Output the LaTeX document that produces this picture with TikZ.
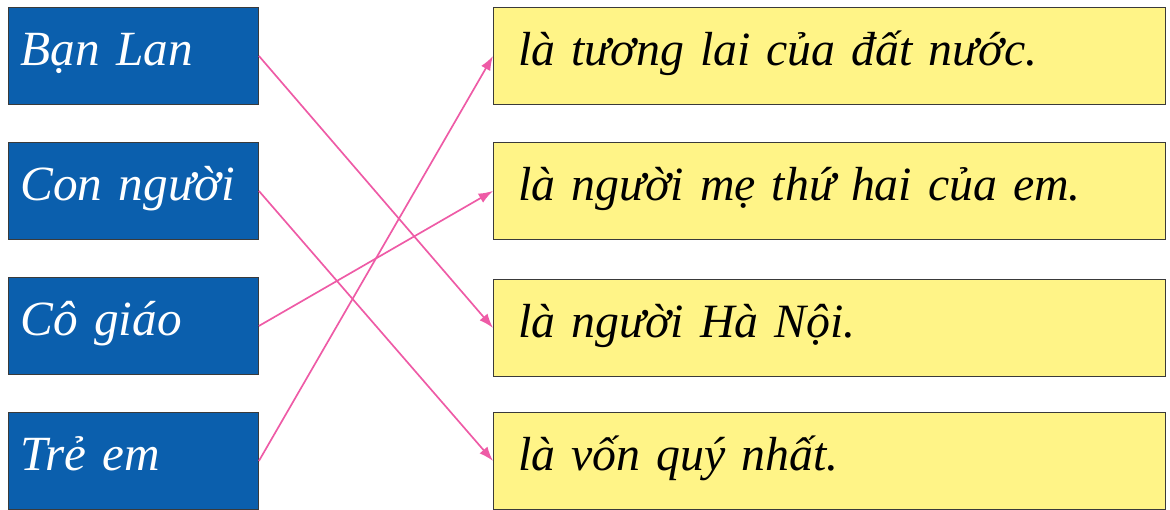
\documentclass[tikz,border=0pt]{standalone}
\usepackage{fontspec}
\setmainfont{Liberation Serif}
\usetikzlibrary{arrows.meta, positioning}
\usepackage{xcolor}
\definecolor{CardBlue}{HTML}{0B5FAD}
\definecolor{CardYellow}{HTML}{FFF487}
\definecolor{CardEdge}{HTML}{3A3A3A}
\definecolor{LinkPink}{HTML}{EE5BA6}
\tikzset{
    % Card styles
    subject/.style={
        rectangle,
        anchor=north west,
        draw=CardEdge,
        fill=CardBlue,
        line width=0.6pt,
        minimum width=6.25cm,
        minimum height=2.425cm,
        inner xsep=0.3cm,
        text width=5.65cm,
        text height=0.9cm,
        text depth=0.425cm,
        align=left,
        text=white,
        font=\itshape\fontsize{35}{40}\selectfont
    },
    predicate/.style={
        rectangle,
        anchor=north west,
        draw=CardEdge,
        fill=CardYellow,
        line width=0.6pt,
        minimum width=16.8cm,
        minimum height=2.425cm,
        inner xsep=0.625cm,
        text width=15.55cm,
        text height=0.9cm,
        text depth=0.425cm,
        align=left,
        text=black,
        font=\itshape\fontsize{34}{40}\selectfont
    },
    % Matching line
    link/.style={
        -{Latex[length=0.36cm, width=0.26cm]},
        line width=1.2pt,
        draw=LinkPink
    }
}
\begin{document}
\begin{tikzpicture}[x=0.025cm, y=-0.025cm]
    \useasboundingbox (0,0) rectangle (1170,509);

    \node[subject] (lan) at (8,7) {Bạn Lan};
    \node[subject] (person) at (8,142) {Con người};
    \node[subject] (teacher) at (8,277) {Cô giáo};
    \node[subject] (kids) at (8,412) {Trẻ em};

    \node[predicate] (future) at (493,7) {là tương lai của đất nước.};
    \node[predicate] (mother) at (493,142) {là người mẹ thứ hai của em.};
    \node[predicate] (hanoi) at (493,279) {là người Hà Nội.};
    \node[predicate] (capital) at (493,412) {là vốn quý nhất.};

    \draw[link] (lan.east) -- (hanoi.west);
    \draw[link] (person.east) -- (capital.west);
    \draw[link] (teacher.east) -- (mother.west);
    \draw[link] (kids.east) -- (future.west);
\end{tikzpicture}
\end{document}
